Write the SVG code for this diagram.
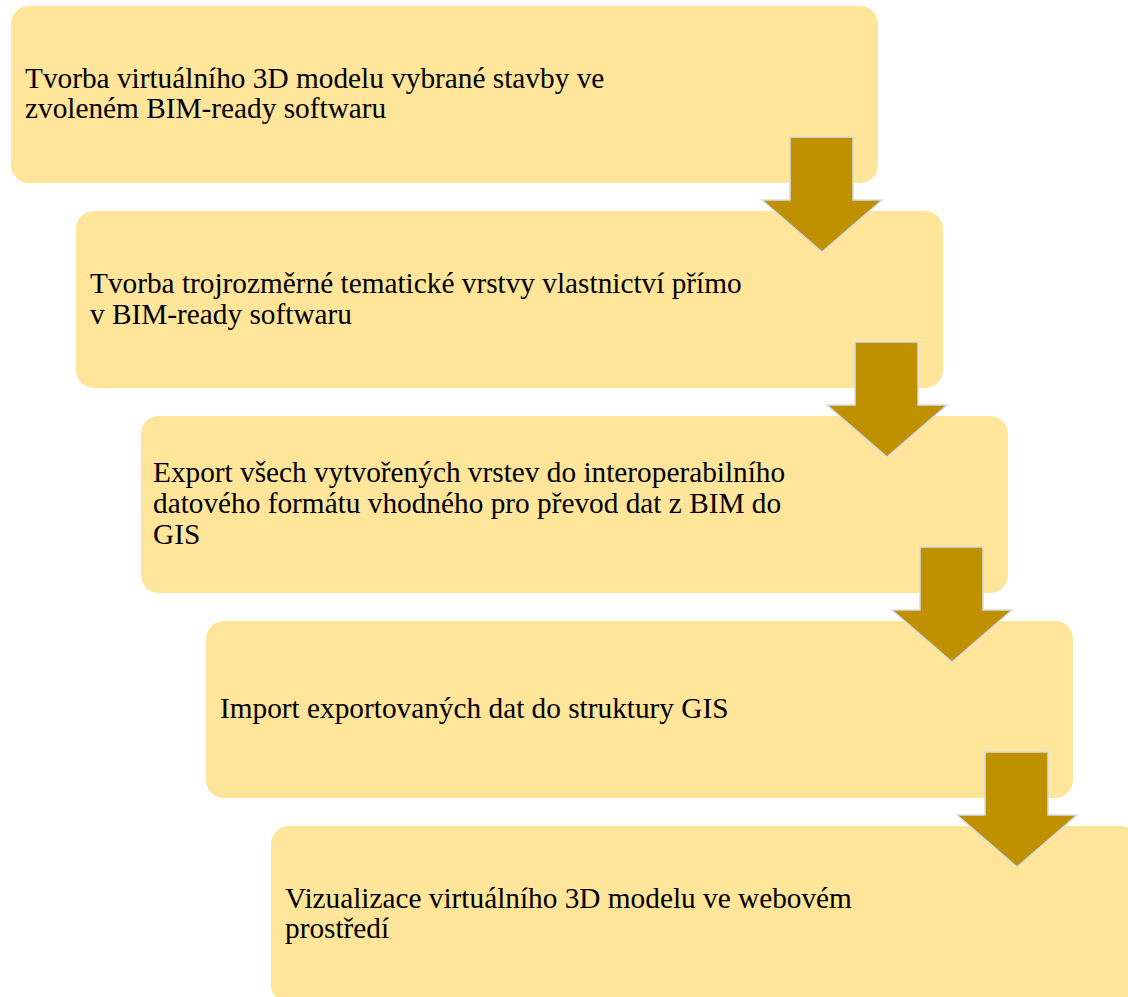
<svg xmlns="http://www.w3.org/2000/svg" width="1128" height="997" viewBox="0 0 1128 997">
<style>
.box{fill:#FFE599;}
.t{font-family:"Liberation Serif","Times New Roman",serif;font-size:29.3px;fill:#000;}
.arr{fill:#BF9000;stroke:#D5DEE8;stroke-width:1.5;stroke-linejoin:miter;}
</style>
<rect width="1128" height="997" fill="#fff"/>
<g id="node1"><rect class="box" x="11" y="6" width="867" height="177" rx="18"/>
<text class="t" x="25" y="88">Tvorba virtuálního 3D modelu vybrané stavby ve</text>
<text class="t" x="25" y="118">zvoleném BIM-ready softwaru</text></g>
<g id="node2"><rect class="box" x="76" y="211" width="867" height="177" rx="18"/>
<text class="t" x="90" y="293">Tvorba trojrozměrné tematické vrstvy vlastnictví přímo</text>
<text class="t" x="90" y="324">v BIM-ready softwaru</text></g>
<g id="node3"><rect class="box" x="141" y="416" width="867" height="177" rx="18"/>
<text class="t" x="153" y="482">Export všech vytvořených vrstev do interoperabilního</text>
<text class="t" x="153" y="513">datového formátu vhodného pro převod dat z BIM do</text>
<text class="t" x="153" y="544">GIS</text></g>
<g id="node4"><rect class="box" x="206" y="621" width="867" height="177" rx="18"/>
<text class="t" x="220" y="718">Import exportovaných dat do struktury GIS</text></g>
<g id="node5"><rect class="box" x="271" y="826" width="867" height="177" rx="18"/>
<text class="t" x="285" y="908">Vizualizace virtuálního 3D modelu ve webovém</text>
<text class="t" x="285" y="938">prostředí</text></g>
<g id="connectors">
<polygon class="arr" points="790,137 853,137 853,200 882,200 822,252 762,200 790,200"/>
<polygon class="arr" points="855,342 918,342 918,405 947,405 887,457 827,405 855,405"/>
<polygon class="arr" points="920,547 983,547 983,610 1012,610 952,662 892,610 920,610"/>
<polygon class="arr" points="985,752 1048,752 1048,815 1077,815 1017,867 957,815 985,815"/>
</g>
</svg>
